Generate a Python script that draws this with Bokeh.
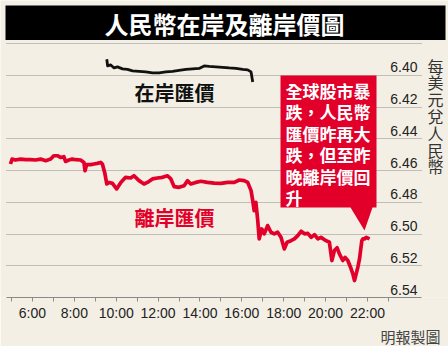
from bokeh.plotting import figure
from bokeh.models import Range1d, FixedTicker, Label, BoxAnnotation, Title, Grid
from bokeh.core.properties import value
from bokeh.embed import file_html
from bokeh.resources import INLINE

# ---- data (hours of day, CNY per USD) ----
onshore_time = [9.55, 9.59, 9.74, 9.90, 10.06, 10.30, 10.54, 10.78, 11.09, 11.41, 11.73, 12.05,
                12.37, 12.69, 13.00, 13.33, 13.65, 13.96, 14.20, 14.44, 14.76, 15.08, 15.40,
                15.72, 16.04, 16.28, 16.44, 16.52]
onshore_rate = [6.3899, 6.3941, 6.3935, 6.3954, 6.3947, 6.3960, 6.3963, 6.3972, 6.3975, 6.3979,
                6.3985, 6.3985, 6.3979, 6.3975, 6.3969, 6.3963, 6.3960, 6.3957, 6.3941, 6.3944,
                6.3947, 6.3950, 6.3954, 6.3957, 6.3963, 6.3966, 6.3979, 6.4042]

offshore_time = [4.95, 5.03, 5.19, 5.43, 5.67, 5.91, 6.15, 6.39, 6.63, 6.87,
                 7.02, 7.19, 7.34, 7.50, 7.58, 7.74, 7.90, 8.06, 8.30, 8.46,
                 8.51, 8.59, 8.78, 8.94, 9.10, 9.26, 9.34, 9.45, 9.55, 9.66,
                 9.82, 10.02, 10.22, 10.45, 10.69, 10.85, 11.09, 11.33, 11.49, 11.73,
                 11.97, 12.21, 12.45, 12.61, 12.77, 13.00, 13.24, 13.41, 13.56, 13.80,
                 14.04, 14.36, 14.68, 15.00, 15.32, 15.64, 15.88, 16.11, 16.28, 16.44,
                 16.52, 16.59, 16.67, 16.76, 16.83, 16.95, 17.07, 17.23, 17.39, 17.55,
                 17.71, 17.87, 18.03, 18.16, 18.35, 18.51, 18.67, 18.83, 18.99, 19.15,
                 19.31, 19.47, 19.63, 19.78, 20.02, 20.18, 20.30, 20.42, 20.55, 20.66,
                 20.82, 20.93, 21.06, 21.19, 21.30, 21.38, 21.46, 21.54, 21.62, 21.67,
                 21.73, 21.78, 21.86, 21.94, 22.10]
offshore_rate = [6.4559, 6.4528, 6.4534, 6.4528, 6.4532, 6.4532, 6.4534, 6.4528, 6.4538, 6.4528,
                 6.4507, 6.4507, 6.4518, 6.4513, 6.4543, 6.4534, 6.4528, 6.4532, 6.4534, 6.4549,
                 6.4601, 6.4563, 6.4563, 6.4559, 6.4555, 6.4549, 6.4559, 6.4612, 6.4685, 6.4675,
                 6.4681, 6.4716, 6.4675, 6.4643, 6.4647, 6.4633, 6.4664, 6.4685, 6.4675, 6.4653,
                 6.4647, 6.4643, 6.4633, 6.4653, 6.4702, 6.4706, 6.4696, 6.4664, 6.4685, 6.4675,
                 6.4668, 6.4675, 6.4679, 6.4681, 6.4675, 6.4675, 6.4660, 6.4664, 6.4675, 6.4727,
                 6.4790, 6.4853, 6.4801, 6.4916, 6.5031, 6.4968, 6.4999, 6.4947, 6.4989, 6.4999,
                 6.4989, 6.5021, 6.5094, 6.5052, 6.5042, 6.5031, 6.5010, 6.4983, 6.4999, 6.4996,
                 6.5021, 6.5004, 6.5031, 6.5021, 6.5042, 6.5052, 6.5167, 6.5104, 6.5087, 6.5125,
                 6.5167, 6.5147, 6.5167, 6.5209, 6.5251, 6.5293, 6.5251, 6.5209, 6.5157, 6.5104,
                 6.5042, 6.5031, 6.5031, 6.5021, 6.5031]

x_ticks = [6, 8, 10, 12, 14, 16, 18, 20, 22]
x_tick_labels = ["6:00", "8:00", "10:00", "12:00", "14:00", "16:00", "18:00", "20:00", "22:00"]
x_minor_ticks = [5, 7, 9, 11, 13, 15, 17, 19, 21, 23]
y_grid = [6.38, 6.40, 6.42, 6.44, 6.46, 6.48, 6.50, 6.52, 6.54]
y_ticks = [6.40, 6.42, 6.44, 6.46, 6.48, 6.50, 6.52, 6.54]
y_tick_labels = ["6.40", "6.42", "6.44", "6.46", "6.48", "6.50", "6.52", "6.54"]

title_text = "人民幣在岸及離岸價圖"
onshore_name = "在岸匯價"
offshore_name = "離岸匯價"
callout_text = "全球股市暴\n跌，人民幣\n匯價昨再大\n跌，但至昨\n晚離岸價回\n升"
y_title = "每\n美\n元\n兌\n人\n民\n幣"
credit = "明報製圖"

# ---- styling ----
BG = "#f3efe5"
RED = "#e2002b"
CJK = "Noto Sans CJK TC"
LAT = "Liberation Sans"
W, H = 448, 346

# plotting area spans the whole width; chart body limited to [xa, xb]
x0, x1 = 4.4747, 25.869
xa, xb = 4.761, 24.58
p = figure(width=W, height=H, output_backend="svg", toolbar_location=None, title=None,
           x_range=Range1d(x0, x1), y_range=Range1d(6.54, 6.35291),
           y_axis_location=None,
           min_border_left=0, min_border_right=0, min_border_top=0, min_border_bottom=49)
p.background_fill_color = BG
p.border_fill_color = BG
p.outline_line_color = None

p.xgrid.visible = False
p.ygrid.ticker = FixedTicker(ticks=y_grid)
p.ygrid.grid_line_color = "#8c8c8c"
p.ygrid.grid_line_dash = "1 1"
p.ygrid.grid_line_width = 1
if "cross_bounds" in Grid.properties():
    p.ygrid.cross_bounds = (xa, xb)
else:
    p.ygrid.visible = False
    p.segment(x0=[xa] * len(y_grid), y0=y_grid, x1=[xb] * len(y_grid), y1=y_grid,
              line_color="#8c8c8c", line_dash="1 1", line_width=1)

ax = p.xaxis[0]
ax.bounds = (xa, xb)
ax.ticker = FixedTicker(ticks=x_ticks, minor_ticks=x_minor_ticks)
ax.major_label_overrides = {t: s for t, s in zip(x_ticks, x_tick_labels)}
ax.axis_line_color = "#8a8a8a"
ax.major_tick_line_color = "#8a8a8a"
ax.minor_tick_line_color = "#8a8a8a"
ax.major_tick_in = 0
ax.major_tick_out = 4
ax.minor_tick_in = 0
ax.minor_tick_out = 4
ax.major_label_standoff = 3
ax.major_label_text_font = LAT
ax.major_label_text_font_size = "14px"
ax.major_label_text_color = "#222222"

# credit under the axis, right aligned
p.add_layout(Title(text=credit, align="right", offset=8, standoff=0,
                   text_font=CJK, text_font_size="15px", text_font_style="normal",
                   text_color="#444444"), "below")

# y tick labels sitting just above their grid lines
p.text(x=[xb] * len(y_ticks), y=y_ticks, text=y_tick_labels, x_offset=-4, y_offset=-8,
       text_align="right", text_baseline="middle", text_font=value(LAT),
       text_font_size="14px", text_color="#222222")

# series
p.line(offshore_time, offshore_rate, line_color=RED, line_width=3.7, line_join="round")
p.line(onshore_time, onshore_rate, line_color="#111111", line_width=2.8, line_join="round")

# series labels
p.text(x=[12.78], y=[6.4109], text=[onshore_name], text_align="center", text_baseline="middle",
       text_font=value(CJK), text_font_style="bold", text_font_size="20px", text_color="#111111")
p.text(x=[12.78], y=[6.4896], text=[offshore_name], text_align="center", text_baseline="middle",
       text_font=value(CJK), text_font_style="bold", text_font_size="20px", text_color=RED)

# callout box with pointer
cx = [17.846, 22.431, 22.431, 22.240, 21.858, 21.189, 17.846]
cy = [6.40016, 6.40016, 6.48331, 6.48331, 6.49780, 6.48331, 6.48331]
p.patch(cx, cy, fill_color=RED, line_color=None)
p.text(x=[18.085], y=[6.4017], text=[callout_text], text_align="left", text_baseline="top",
       text_line_height=0.86, text_font=value(CJK), text_font_style="bold",
       text_font_size="17px", text_color="white")

# title bar
p.add_layout(BoxAnnotation(left=5, right=445, top=5, bottom=39.5,
                           left_units="canvas", right_units="canvas",
                           top_units="canvas", bottom_units="canvas",
                           fill_color="black", fill_alpha=1.0, line_color=None))
p.add_layout(Label(x=224, y=22.5, x_units="canvas", y_units="canvas", text=title_text,
                   text_align="center", text_baseline="middle", text_color="white",
                   text_font=CJK, text_font_style="bold", text_font_size="24px"))

# vertical axis title (upright characters)
p.add_layout(Label(x=435, y=53, x_units="canvas", y_units="canvas", text=y_title,
                   text_align="center", text_baseline="top", text_line_height=0.70,
                   text_color="#333333", text_font=CJK, text_font_size="16px"))

open("out.html", "w").write(file_html(p, INLINE))
